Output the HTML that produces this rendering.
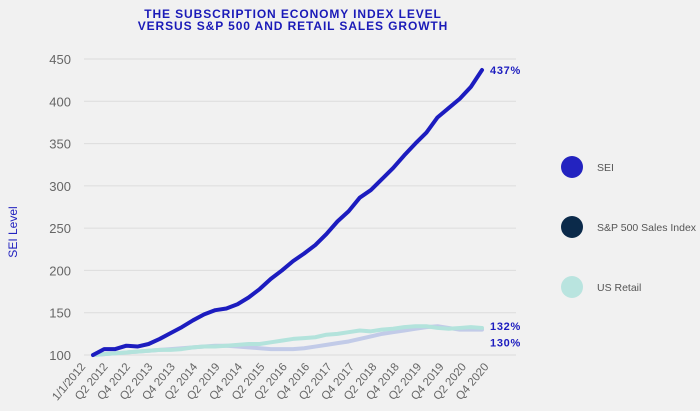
<!DOCTYPE html>
<html><head><meta charset="utf-8"><style>
body{margin:0;background:#f1f1f1;}
svg{display:block;font-family:"Liberation Sans",sans-serif;}
</style></head><body>
<svg id="chart" width="700" height="411">
<rect width="700" height="411" fill="#f1f1f1"/>
<text x="293" y="18" text-anchor="middle" font-size="12" font-weight="bold" fill="#1a1ab8" letter-spacing="0.9">THE SUBSCRIPTION ECONOMY INDEX LEVEL</text>
<text x="293" y="30" text-anchor="middle" font-size="12" font-weight="bold" fill="#1a1ab8" letter-spacing="0.9">VERSUS S&amp;P 500 AND RETAIL SALES GROWTH</text>
<text transform="translate(17,232) rotate(-90)" text-anchor="middle" font-size="12" fill="#2323c0">SEI Level</text>
<g id="grid"></g><g id="ylab"></g><g id="xlab"></g><g id="lines"></g><g id="legend"></g>
</svg>
<script>
const yTicks=[100,150,200,250,300,350,400,450];
const xLabels=["1/1/2012","Q2 2012","Q4 2012","Q2 2013","Q4 2013","Q2 2014","Q2 2019","Q4 2014","Q2 2015","Q2 2016","Q4 2016","Q2 2017","Q4 2017","Q2 2018","Q4 2018","Q2 2019","Q4 2019","Q2 2020","Q4 2020"];
const sei=[100,107,107,111,110,113,119,126,133,141,148,153,155,160,168,178,190,200,211,220,230,243,258,270,286,295,308,321,336,350,363,381,392,403,417,437];
const sp=[100,101,102,103,104,105,106,107,108,109,110,111,111,110,109,108,107,107,107,108,110,112,114,116,119,122,125,127,129,131,133,134,132,130,130,130];
const retail=[100,101,102,103,104,105,106,106,107,109,110,110,111,112,113,113,115,117,119,120,121,124,125,127,129,128,130,131,133,134,134,132,131,132,133,132];
const endLabels=["437%","132%","130%"];
const legendNames=["SEI","S&P 500 Sales Index","US Retail"];
const NS="http://www.w3.org/2000/svg";
function el(t,a,p){const e=document.createElementNS(NS,t);for(const k in a)e.setAttribute(k,a[k]);p.appendChild(e);return e;}
const y=v=>355-(v-100)*(296/350);
const x=i=>93+i*(389/35);
const g=document.getElementById('grid'),yl=document.getElementById('ylab'),xl=document.getElementById('xlab'),ln=document.getElementById('lines'),lg=document.getElementById('legend');
yTicks.forEach(t=>{
 const l=el('line',{x1:84,x2:516,y1:y(t),y2:y(t),stroke:'#dcdcdc','stroke-width':1},g);
 
 
 const tx=el('text',{x:71,y:y(t)+5,'text-anchor':'end','font-size':13,fill:'#666'},yl);tx.textContent=t;
 
 
});
xLabels.forEach((s,i)=>{
 const px=86+i*22.4,py=367;
 const tx=el('text',{x:px,y:py,'text-anchor':'end','font-size':11.5,fill:'#666',transform:`rotate(-50 ${px} ${py})`},xl);tx.textContent=s;
 
 
});
function line(d,c,w,name){const p=el('polyline',{points:d.map((v,i)=>x(i)+','+y(v)).join(' '),fill:'none',stroke:c,'stroke-width':w,'stroke-linejoin':'round','stroke-linecap':'round'},ln);
 
 }
line(sp,'#c2cbe8',4,'sp500-line');
line(retail,'#b3e3dc',4,'us-retail-line');
line(sei,'#1c1cbf',4,'sei-line');
const lbls=[[sei[sei.length-1],0],[retail[retail.length-1],-2],[sp[sp.length-1],13]];
lbls.forEach((a,k)=>{const t=el('text',{x:490,y:y(a[0])+a[1]+4,'font-size':11,'font-weight':'bold',fill:'#1c1cbf','letter-spacing':'0.7'},ln);t.textContent=endLabels[k];
 
 });
const lc=['#2323c0','#0b2a4a','#b9e4df'],ly=[167,227,287];
legendNames.forEach((n,k)=>{
 const c=el('circle',{cx:572,cy:ly[k],r:11,fill:lc[k]},lg);
 
 
 const t=el('text',{x:597,y:ly[k]+4,'font-size':10.5,fill:'#555'},lg);t.textContent=n;
 
 
});
</script>
</body></html>
